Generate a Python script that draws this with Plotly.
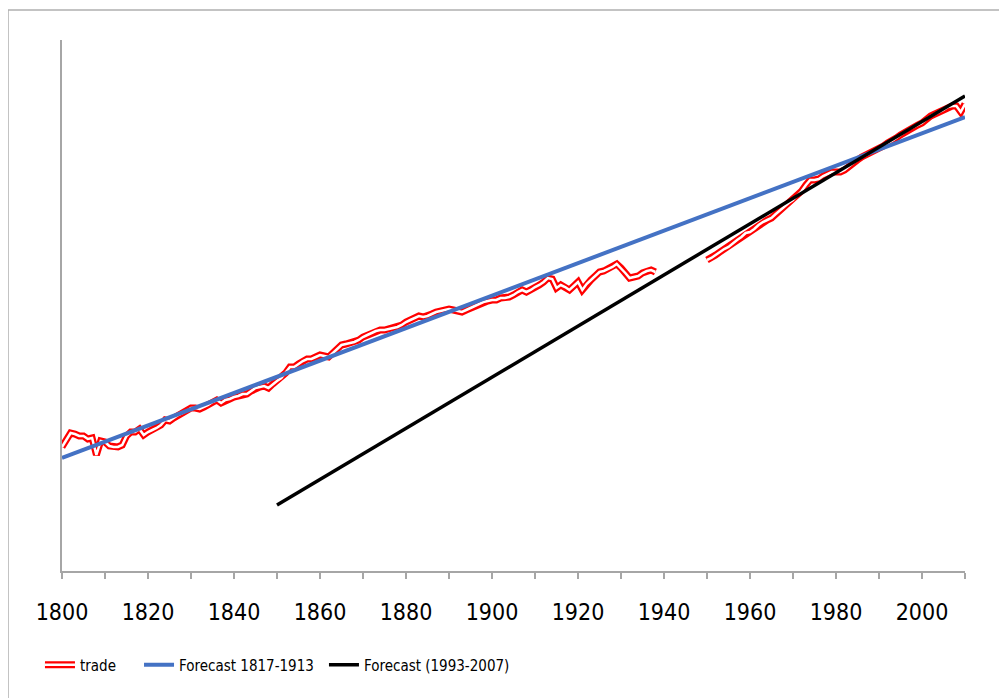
import plotly.graph_objects as go

# ---------------- data ----------------
trade_years_pre = list(range(1800, 1939))
trade_pre = [
    1.24, 1.31, 1.38, 1.37, 1.35, 1.35, 1.32, 1.33, 1.16, 1.30,  # 1800-1809
    1.29, 1.25, 1.24, 1.24, 1.26, 1.35, 1.39, 1.39, 1.42, 1.36,  # 1810-1819
    1.39, 1.41, 1.43, 1.46, 1.51, 1.50, 1.53, 1.56, 1.58, 1.60,  # 1820-1829
    1.63, 1.63, 1.62, 1.64, 1.66, 1.69, 1.71, 1.68, 1.71, 1.72,  # 1830-1839
    1.74, 1.75, 1.77, 1.77, 1.80, 1.83, 1.84, 1.85, 1.83, 1.87,  # 1840-1849
    1.90, 1.93, 1.98, 2.04, 2.04, 2.07, 2.10, 2.12, 2.12, 2.14,  # 1850-1859
    2.16, 2.15, 2.14, 2.18, 2.22, 2.26, 2.27, 2.28, 2.29, 2.31,  # 1860-1869
    2.34, 2.36, 2.38, 2.40, 2.41, 2.41, 2.42, 2.43, 2.44, 2.46,  # 1870-1879
    2.49, 2.51, 2.53, 2.55, 2.54, 2.55, 2.57, 2.59, 2.60, 2.61,  # 1880-1889
    2.62, 2.61, 2.60, 2.59, 2.61, 2.63, 2.65, 2.67, 2.69, 2.70,  # 1890-1899
    2.71, 2.71, 2.73, 2.73, 2.74, 2.76, 2.79, 2.81, 2.79, 2.81,  # 1900-1909
    2.84, 2.86, 2.89, 2.93, 2.92, 2.83, 2.86, 2.84, 2.81, 2.85,  # 1910-1919
    2.89, 2.81, 2.87, 2.91, 2.95, 2.99, 3.00, 3.02, 3.04, 3.07,  # 1920-1929
    3.03, 2.98, 2.93, 2.94, 2.95, 2.98, 3.00, 3.01, 2.99,        # 1930-1938
]
trade_years_post = list(range(1950, 2011))
trade_post = [
    3.11, 3.13, 3.16, 3.19, 3.22, 3.24, 3.28, 3.31, 3.34, 3.38,  # 1950-1959
    3.39, 3.42, 3.46, 3.49, 3.51, 3.53, 3.57, 3.61, 3.65, 3.68,  # 1960-1969
    3.71, 3.75, 3.80, 3.86, 3.91, 3.91, 3.92, 3.95, 3.97, 3.99,  # 1970-1979
    3.99, 3.99, 4.01, 4.05, 4.08, 4.11, 4.14, 4.16, 4.18, 4.21,  # 1980-1989
    4.23, 4.25, 4.28, 4.30, 4.33, 4.36, 4.39, 4.42, 4.44, 4.46,  # 1990-1999
    4.48, 4.52, 4.55, 4.57, 4.59, 4.61, 4.64, 4.65, 4.65, 4.59,  # 2000-2009
    4.67,                                                        # 2010
]
forecast1_years = [1800, 2010]
forecast1_values = [1.13, 4.54]
forecast2_years = [1850, 2010]
forecast2_values = [0.66, 4.75]

tick_years = list(range(1800, 2011, 10))
tick_labels = [str(y) if (y - 1800) % 20 == 0 else "" for y in tick_years]
odd_tick_years = [y for y in tick_years if (y - 1800) % 20 == 10]

# gap between the two trade segments
trade_x = trade_years_pre + [None] + trade_years_post
trade_y = trade_pre + [None] + trade_post

FONT = "DejaVu Sans Condensed, DejaVu Sans, sans-serif"
GRAY = "#a6a6a6"

fig = go.Figure()
fig.add_trace(go.Scatter(x=trade_x, y=trade_y, mode="lines", name="trade",
                         line=dict(color="#ff0000", width=7), connectgaps=False,
                         legend="legend", showlegend=True))
# white core that turns the red stroke into a double line (also in the legend)
fig.add_trace(go.Scatter(x=trade_x, y=trade_y, mode="lines", name="trade",
                         line=dict(color="#ffffff", width=2.5), connectgaps=False,
                         legend="legend2", showlegend=True, hoverinfo="skip"))
fig.add_trace(go.Scatter(x=forecast1_years, y=forecast1_values, mode="lines",
                         name="Forecast 1817-1913",
                         line=dict(color="#4472c4", width=4), legend="legend3"))
fig.add_trace(go.Scatter(x=forecast2_years, y=forecast2_values, mode="lines",
                         name="Forecast (1993-2007)",
                         line=dict(color="#000000", width=3.5), legend="legend4"))

leg_common = dict(orientation="h", yanchor="middle", y=-0.177, xanchor="left",
                  bgcolor="rgba(0,0,0,0)", borderwidth=0, visible=True,
                  font=dict(family=FONT, size=15, color="#000000"))

fig.update_layout(
    width=999, height=690,
    margin=dict(l=54, r=42, t=32, b=127),
    paper_bgcolor="white", plot_bgcolor="white",
    showlegend=True,
    font=dict(family=FONT, color="#000000"),
    legend=dict(leg_common, x=-0.0244),
    legend2=dict(leg_common, x=-0.0244,
                 font=dict(family=FONT, size=15, color="rgba(0,0,0,0)")),
    legend3=dict(leg_common, x=0.0853),
    legend4=dict(leg_common, x=0.2901),
    xaxis=dict(range=[1800, 2010], tickmode="array", tickvals=tick_years,
               ticktext=tick_labels, ticks="outside", ticklen=6, tickwidth=1.5,
               tickcolor=GRAY, showline=True, linecolor=GRAY, linewidth=1.5,
               showgrid=False, zeroline=False, ticklabelstandoff=14,
               tickfont=dict(family=FONT, size=23, color="#000000")),
    xaxis2=dict(range=[1800, 2010], overlaying="x", anchor="y", side="bottom",
                tickmode="array", tickvals=odd_tick_years, ticks="inside",
                ticklen=6, tickwidth=1.5, tickcolor=GRAY, showticklabels=False,
                showline=False, showgrid=False, zeroline=False),
    yaxis=dict(range=[0, 5.31], showline=True, linecolor=GRAY, linewidth=1.5,
               showticklabels=False, ticks="", showgrid=False, zeroline=False),
    shapes=[dict(type="rect", xref="paper", yref="paper",
                 x0=-0.0598, x1=1.042, y0=-0.30, y1=1.0565,
                 line=dict(color="#b0b0b0", width=1.5), fillcolor="rgba(0,0,0,0)",
                 layer="below")],
)

fig.write_html("out.html")
